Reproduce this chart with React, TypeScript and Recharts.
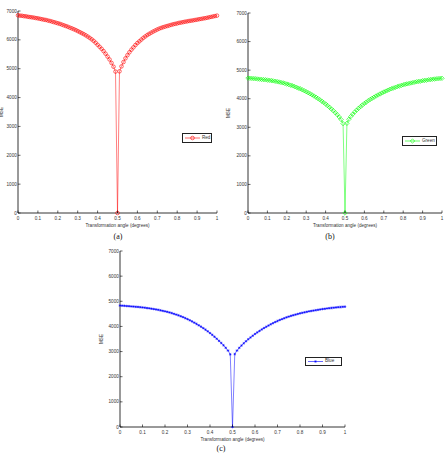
import React from "react";
import { LineChart, Line, XAxis, YAxis, Legend, Label } from "recharts";

const angles = Array.from({ length: 101 }, (_, i) => i / 100);
const xTicks = [0, 0.1, 0.2, 0.3, 0.4, 0.5, 0.6, 0.7, 0.8, 0.9, 1];
const xTickLabels = ["0", "0.1", "0.2", "0.3", "0.4", "0.5", "0.6", "0.7", "0.8", "0.9", "1"];
const yTicks = [0, 1000, 2000, 3000, 4000, 5000, 6000, 7000];
const yTickLabels = ["0", "1000", "2000", "3000", "4000", "5000", "6000", "7000"];

// MSE per channel (angle 0 .. 1 step 0.01)
const red = [
  6850, 6840, 6835, 6820, 6815, 6800, 6790, 6780, 6770, 6755, 6745,
  6730, 6715, 6700, 6690, 6670, 6655, 6635, 6615, 6595, 6575,
  6555, 6530, 6505, 6480, 6455, 6425, 6400, 6370, 6340, 6305,
  6270, 6235, 6200, 6160, 6115, 6070, 6020, 5965, 5900, 5830,
  5760, 5690, 5610, 5520, 5420, 5320, 5200, 5070, 4900,
  0,
  4910, 5080, 5230, 5360, 5470, 5570, 5660, 5740, 5820, 5890,
  5950, 6010, 6070, 6120, 6170, 6210, 6250, 6290, 6325, 6360,
  6390, 6415, 6440, 6460, 6480, 6500, 6520, 6540, 6555, 6570,
  6590, 6600, 6615, 6630, 6640, 6655, 6665, 6675, 6690, 6700,
  6715, 6725, 6740, 6750, 6765, 6780, 6795, 6810, 6825, 6840,
];
const green = [
  4720, 4715, 4710, 4705, 4700, 4690, 4685, 4675, 4670, 4660, 4655,
  4645, 4635, 4625, 4610, 4600, 4585, 4570, 4555, 4535, 4515,
  4495, 4475, 4450, 4425, 4400, 4370, 4345, 4310, 4280, 4245,
  4210, 4175, 4135, 4095, 4055, 4010, 3965, 3915, 3865, 3815,
  3760, 3700, 3640, 3580, 3510, 3440, 3360, 3270, 3130,
  0,
  3140, 3280, 3380, 3460, 3535, 3600, 3665, 3725, 3780, 3835,
  3880, 3930, 3975, 4015, 4055, 4095, 4130, 4165, 4200, 4235,
  4265, 4295, 4325, 4350, 4375, 4400, 4425, 4445, 4465, 4485,
  4505, 4520, 4535, 4550, 4565, 4580, 4595, 4605, 4615, 4630,
  4640, 4650, 4660, 4670, 4680, 4690, 4695, 4705, 4710, 4715,
];
const blue = [
  4830, 4825, 4820, 4810, 4805, 4795, 4790, 4780, 4775, 4765, 4755,
  4745, 4730, 4720, 4705, 4690, 4675, 4660, 4640, 4620, 4600,
  4580, 4555, 4530, 4500, 4470, 4440, 4405, 4370, 4330, 4290,
  4245, 4200, 4150, 4100, 4045, 3990, 3930, 3870, 3805, 3735,
  3665, 3590, 3510, 3425, 3340, 3250, 3150, 3040, 2890,
  0,
  2900, 3040, 3150, 3240, 3330, 3410, 3490, 3560, 3630, 3700,
  3760, 3820, 3880, 3935, 3985, 4035, 4085, 4130, 4175, 4215,
  4255, 4290, 4325, 4360, 4390, 4420, 4445, 4470, 4495, 4520,
  4540, 4560, 4580, 4600, 4615, 4630, 4645, 4660, 4675, 4690,
  4700, 4715, 4725, 4735, 4745, 4755, 4765, 4770, 4780, 4785,
];

const FONT = "'Liberation Sans', Arial, sans-serif";
const FS = 4.6;
const TXT = "#333";
const YW = 24;
const TOP_M = 3;
const RIGHT_M = 3;
const XH = 22;

type MarkerKind = "circle" | "diamond" | "star";

function Marker({ cx, cy, kind, color }: { cx: number; cy: number; kind: MarkerKind; color: string }) {
  if (kind === "circle") {
    return <circle cx={cx} cy={cy} r={1.8} fill="none" stroke={color} strokeWidth={0.6} />;
  }
  if (kind === "diamond") {
    const s = 2.2;
    return (
      <polygon
        points={`${cx},${cy - s} ${cx + s},${cy} ${cx},${cy + s} ${cx - s},${cy}`}
        fill="none"
        stroke={color}
        strokeWidth={0.6}
      />
    );
  }
  const s = 1.3;
  return (
    <g stroke={color} strokeWidth={0.5}>
      <line x1={cx - s} y1={cy} x2={cx + s} y2={cy} />
      <line x1={cx} y1={cy - s} x2={cx} y2={cy + s} />
      <line x1={cx - s * 0.7} y1={cy - s * 0.7} x2={cx + s * 0.7} y2={cy + s * 0.7} />
      <line x1={cx - s * 0.7} y1={cy + s * 0.7} x2={cx + s * 0.7} y2={cy - s * 0.7} />
    </g>
  );
}

const BottomTick = (props: any) => {
  const { x, y, payload } = props;
  return (
    <g>
      <line x1={x} y1={y} x2={x} y2={y - 2.5} stroke="#000" strokeWidth={0.6} />
      <text x={x} y={y + 6.8} textAnchor="middle" fontSize={FS} fontFamily={FONT} fill={TXT}>
        {xTickLabels[xTicks.indexOf(payload.value)]}
      </text>
    </g>
  );
};
const TopTick = (props: any) => (
  <line x1={props.x} y1={props.y} x2={props.x} y2={props.y + 2.5} stroke="#000" strokeWidth={0.6} />
);
const LeftTick = (props: any) => {
  const { x, y, payload } = props;
  return (
    <g>
      <line x1={x} y1={y} x2={x + 2.5} y2={y} stroke="#000" strokeWidth={0.6} />
      <text x={x - 1.2} y={y + 1.6} textAnchor="end" fontSize={FS} fontFamily={FONT} fill={TXT}>
        {yTickLabels[yTicks.indexOf(payload.value)]}
      </text>
    </g>
  );
};
const RightTick = (props: any) => (
  <line x1={props.x} y1={props.y} x2={props.x - 2.5} y2={props.y} stroke="#000" strokeWidth={0.6} />
);

type PanelProps = {
  values: number[];
  name: string;
  color: string;
  kind: MarkerKind;
  plotX: number;
  plotY: number;
  plotW: number;
  plotH: number;
  legend: { x: number; y: number; w: number; h: number };
  mseGap: number;
};

function Panel({ values, name, color, kind, plotX, plotY, plotW, plotH, legend, mseGap }: PanelProps) {
  const data = angles.map((a, i) => ({ angle: a, mse: values[i] }));
  return (
    <div style={{ position: "absolute", left: plotX - YW, top: plotY - TOP_M }}>
      <LineChart
        width={YW + plotW + RIGHT_M}
        height={TOP_M + plotH + XH}
        data={data}
        margin={{ top: TOP_M, right: RIGHT_M, left: 0, bottom: 0 }}
      >
        <XAxis
          dataKey="angle"
          type="number"
          domain={[0, 1]}
          ticks={xTicks}
          interval={0}
          height={XH}
          tickSize={0}
          tickMargin={0}
          tick={<BottomTick />}
          axisLine={{ stroke: "#000", strokeWidth: 0.8 }}
        >
          <Label
            content={(p: any) => {
              const vb = p.viewBox;
              return (
                <text
                  x={vb.x + vb.width / 2}
                  y={vb.y + 13.6}
                  textAnchor="middle"
                  fontSize={FS}
                  fontFamily={FONT}
                  fill={TXT}
                >
                  Transformation angle (degrees)
                </text>
              );
            }}
          />
        </XAxis>
        <XAxis
          xAxisId="top"
          dataKey="angle"
          type="number"
          orientation="top"
          domain={[0, 1]}
          ticks={xTicks}
          interval={0}
          height={0}
          tickSize={0}
          tickMargin={0}
          tick={<TopTick />}
          axisLine={{ stroke: "#000", strokeWidth: 0.8 }}
        />
        <YAxis
          type="number"
          domain={[0, 7000]}
          ticks={yTicks}
          interval={0}
          width={YW}
          tickSize={0}
          tickMargin={0}
          tick={<LeftTick />}
          axisLine={{ stroke: "#000", strokeWidth: 0.8 }}
        >
          <Label
            content={(p: any) => {
              const vb = p.viewBox;
              const x = vb.x + vb.width - mseGap;
              const y = vb.y + vb.height / 2;
              return (
                <text
                  x={x}
                  y={y}
                  transform={`rotate(-90 ${x} ${y})`}
                  textAnchor="middle"
                  fontSize={FS}
                  fontFamily={FONT}
                  fill={TXT}
                >
                  MSE
                </text>
              );
            }}
          />
        </YAxis>
        <YAxis
          yAxisId="right"
          type="number"
          orientation="right"
          domain={[0, 7000]}
          ticks={yTicks}
          interval={0}
          width={0}
          tickSize={0}
          tickMargin={0}
          tick={<RightTick />}
          axisLine={{ stroke: "#000", strokeWidth: 0.8 }}
        />
        <Legend
          layout="horizontal"
          align="center"
          verticalAlign="middle"
          wrapperStyle={{ left: YW + legend.x, top: TOP_M + legend.y, width: legend.w, height: legend.h }}
          content={() => (
            <div
              style={{
                width: legend.w,
                height: legend.h,
                boxSizing: "border-box",
                border: "0.8px solid #222",
                background: "#fff",
                display: "flex",
                alignItems: "center",
              }}
            >
              <svg width={15} height={legend.h - 2} style={{ marginLeft: 2 }}>
                <line x1={0} y1={(legend.h - 2) / 2} x2={15} y2={(legend.h - 2) / 2} stroke={color} strokeWidth={0.6} />
                <Marker cx={7.5} cy={(legend.h - 2) / 2} kind={kind} color={color} />
              </svg>
              <span style={{ fontFamily: FONT, fontSize: FS, color: TXT, marginLeft: 2, lineHeight: 1 }}>{name}</span>
            </div>
          )}
        />
        <Line
          type="linear"
          dataKey="mse"
          name={name}
          stroke={color}
          strokeWidth={0.5}
          isAnimationActive={false}
          activeDot={false}
          dot={(p: any) => <Marker key={p.index} cx={p.cx} cy={p.cy} kind={kind} color={color} />}
        />
      </LineChart>
    </div>
  );
}

const captionStyle: React.CSSProperties = {
  position: "absolute",
  fontFamily: "'Liberation Serif', 'Times New Roman', serif",
  fontSize: 8,
  color: "#111",
  transform: "translate(-50%, -50%)",
  lineHeight: 1,
};

export default function App() {
  return (
    <div style={{ position: "absolute", left: 0, top: 0, width: 445, height: 453, background: "#fff" }}>
      <Panel
        values={red}
        name="Red"
        color="#ff0000"
        kind="circle"
        plotX={18}
        plotY={11}
        plotW={199}
        plotH={202}
        legend={{ x: 164, y: 122, w: 30, h: 10 }}
        mseGap={15}
      />
      <Panel
        values={green}
        name="Green"
        color="#00ff00"
        kind="diamond"
        plotX={248}
        plotY={13}
        plotW={194}
        plotH={200}
        legend={{ x: 154, y: 123, w: 35, h: 10 }}
        mseGap={18}
      />
      <Panel
        values={blue}
        name="Blue"
        color="#0000ff"
        kind="star"
        plotX={120}
        plotY={251}
        plotW={225}
        plotH={176}
        legend={{ x: 185, y: 106, w: 37, h: 9 }}
        mseGap={17}
      />
      <div style={{ ...captionStyle, left: 118, top: 237 }}>(a)</div>
      <div style={{ ...captionStyle, left: 330, top: 237 }}>(b)</div>
      <div style={{ ...captionStyle, left: 221, top: 449 }}>(c)</div>
    </div>
  );
}
